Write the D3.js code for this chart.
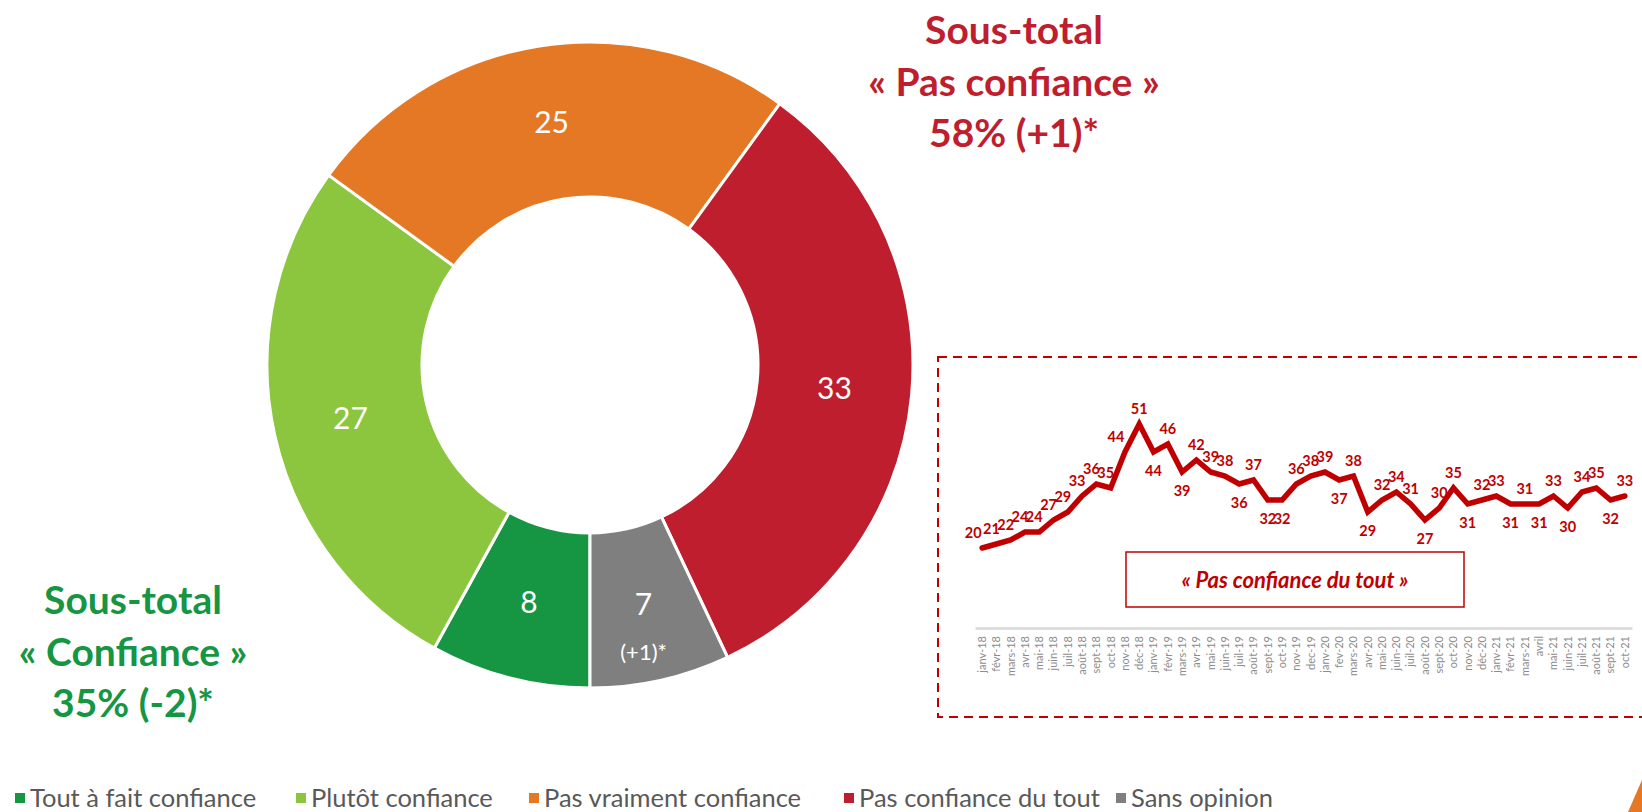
<!DOCTYPE html>
<html>
<head>
<meta charset="utf-8">
<script src="https://cdn.jsdelivr.net/npm/d3@7"></script>
<style>
	body { margin: 0; background: #fff; }
	svg { display: block; font-family: Lato, 'Open Sans', sans-serif; }
</style>
</head>
<body>
<div id="chart"></div>
<script>
// donut data
const categories = ['Tout à fait confiance', 'Plutôt confiance', 'Pas vraiment confiance', 'Pas confiance du tout', 'Sans opinion'];
const shares = [8, 27, 25, 33, 7];
const shareNotes = ['', '', '', '', '(+1)*'];
const colors = ['#169642', '#8cc63f', '#e57825', '#be1e2d', '#7f7f7f'];

// evolution of "Pas confiance du tout"
const months = [
	'janv-18', 'févr-18', 'mars-18', 'avr-18', 'mai-18', 'juin-18', 'juil-18', 'août-18', 'sept-18', 'oct-18', 'nov-18', 'déc-18',
	'janv-19', 'févr-19', 'mars-19', 'avr-19', 'mai-19', 'juin-19', 'juil-19', 'août-19', 'sept-19', 'oct-19', 'nov-19', 'dec-19',
	'janv-20', 'fev-20', 'mars-20', 'avr-20', 'mai-20', 'juin-20', 'juil-20', 'août-20', 'sept-20', 'oct-20', 'nov-20', 'déc-20',
	'janv-21', 'févr-21', 'mars-21', 'avril', 'mai-21', 'juin-21', 'juil-21', 'août-21', 'sept-21', 'oct-21',
];
const pasDuTout = [
	20, 21, 22, 24, 24, 27, 29, 33, 36, 35, 44, 51,
	44, 46, 39, 42, 39, 38, 36, 37, 32, 32, 36, 38,
	39, 37, 38, 29, 32, 34, 31, 27, 30, 35, 31, 32,
	33, 31, 31, 31, 33, 30, 34, 35, 32, 33,
];

const subtotals = [
	{ lines: ['Sous-total', '« Pas confiance »', '58% (+1)*'], color: '#be1e2d', x: 1014, y: 30 },
	{ lines: ['Sous-total', '« Confiance »', '35% (-2)*'], color: '#169642', x: 133, y: 600 },
];

const width = 1642;
const height = 812;
const svg = d3.select('#chart').append('svg')
	.attr('width', width)
	.attr('height', height);

// ---- donut
const cx = 590;
const cy = 365;
const outerR = 323;
const innerR = 168;

const pie = d3.pie()
	.sort(null)
	.value(d => d)
	.startAngle(Math.PI)
	.endAngle(3 * Math.PI);
const arc = d3.arc().innerRadius(innerR).outerRadius(outerR);
const labelArc = d3.arc().innerRadius((innerR + outerR) / 2).outerRadius((innerR + outerR) / 2);

const donut = svg.append('g')
	.attr('transform', `translate(${cx}, ${cy})`);

const slices = donut.selectAll('.slice')
	.data(pie(shares))
	.enter()
	.append('g')
	.attr('class', 'slice');

slices.append('path')
	.attr('d', arc)
	.style('fill', (d, i) => colors[i])
	.style('stroke', '#fff')
	.style('stroke-width', 3);

slices.append('text')
	.attr('transform', d => `translate(${labelArc.centroid(d)})`)
	.attr('dy', '0.35em')
	.style('text-anchor', 'middle')
	.style('fill', '#fff')
	.style('font-size', '30px')
	.text(d => d.data);

slices.filter((d, i) => shareNotes[i] !== '')
	.append('text')
	.attr('transform', d => `translate(${labelArc.centroid(d)})`)
	.attr('dy', '2.5em')
	.style('text-anchor', 'middle')
	.style('fill', '#fff')
	.style('font-size', '22px')
	.text(d => shareNotes[d.index]);

// ---- sub-totals
subtotals.forEach(s => {
	const t = svg.append('text')
		.attr('x', s.x)
		.attr('y', s.y)
		.style('text-anchor', 'middle')
		.style('font-weight', 700)
		.style('font-size', '39px')
		.style('fill', s.color);
	s.lines.forEach((l, i) => {
		t.append('tspan')
			.attr('x', s.x)
			.attr('dy', i === 0 ? '0.35em' : '1.33em')
			.text(l);
	});
});

// ---- inset line chart
const red = '#c00000';
svg.append('rect')
	.attr('x', 938)
	.attr('y', 357)
	.attr('width', 760)
	.attr('height', 360)
	.style('fill', 'none')
	.style('stroke', red)
	.style('stroke-width', 2)
	.style('stroke-dasharray', '9,6');

const x = d3.scaleBand()
	.domain(months)
	.range([975, 1632]);
const y = d3.scaleLinear()
	.domain([0, 60])
	.range([628, 388]);
const xc = m => x(m) + x.bandwidth() / 2;

const xAxis = d3.axisBottom(x)
	.tickSize(0)
	.tickPadding(6)
	.tickSizeOuter(0);
const xAxisG = svg.append('g')
	.attr('class', 'x axis')
	.attr('transform', `translate(0, ${y(0)})`)
	.call(xAxis);
xAxisG.select('.domain')
	.style('stroke', '#d9d9d9')
	.style('stroke-width', 2.5);
xAxisG.selectAll('text')
	.attr('transform', 'rotate(-90)')
	.attr('x', -8)
	.attr('y', 0)
	.attr('dy', '0.35em')
	.style('text-anchor', 'end')
	.style('fill', '#8c8c8c')
	.style('font-family', 'Lato, sans-serif')
	.style('font-size', '11px');

const line = d3.line()
	.x((d, i) => xc(months[i]))
	.y(d => y(d));

svg.append('path')
	.datum(pasDuTout)
	.attr('d', line)
	.style('fill', 'none')
	.style('stroke', red)
	.style('stroke-width', 5.5)
	.style('stroke-linejoin', 'miter')
	.style('stroke-linecap', 'round');

// months whose label sits under the line, as in the original slide
const labelsBelow = new Set(['janv-19', 'mars-19', 'juil-19', 'sept-19', 'oct-19', 'fev-20', 'avr-20',
	'août-20', 'nov-20', 'févr-21', 'avril', 'juin-21', 'sept-21']);

svg.append('g')
	.selectAll('text')
	.data(pasDuTout)
	.enter()
	.append('text')
	.attr('x', (d, i) => {
		let dx = 0;
		if (i === 0 || i === 10) dx = -9;
		else if (i < 10) dx = -5;
		return xc(months[i]) + dx;
	})
	.attr('y', (d, i) => y(d) + (labelsBelow.has(months[i]) ? 24 : -10))
	.style('text-anchor', 'middle')
	.style('font-weight', 700)
	.style('font-size', '14.5px')
	.style('fill', red)
	.text(d => d);

svg.append('rect')
	.attr('x', 1126)
	.attr('y', 552)
	.attr('width', 338)
	.attr('height', 55)
	.style('fill', '#fff')
	.style('stroke', red)
	.style('stroke-width', 1.5);
svg.append('text')
	.attr('x', 1295)
	.attr('y', 580)
	.attr('dy', '0.35em')
	.style('text-anchor', 'middle')
	.style('font-weight', 700)
	.style('font-style', 'italic')
	.style('font-size', '22px')
	.style('fill', red)
	.text('« Pas confiance du tout »');

// ---- legend
const legendX = [15, 296, 529, 844, 1116];
const legend = svg.append('g')
	.selectAll('g')
	.data(categories)
	.enter()
	.append('g')
	.attr('transform', (d, i) => `translate(${legendX[i]}, 798)`);
legend.append('rect')
	.attr('x', 0)
	.attr('y', -5)
	.attr('width', 10)
	.attr('height', 10)
	.style('fill', (d, i) => colors[i]);
legend.append('text')
	.attr('x', 15)
	.attr('dy', '0.35em')
	.style('font-size', '25.5px')
	.style('fill', '#595959')
	.text(d => d);

// corner mark of the slide
svg.append('path')
	.attr('d', 'M1642,780 L1642,812 L1628,812 Z')
	.style('fill', '#e57825');
</script>
</body>
</html>
